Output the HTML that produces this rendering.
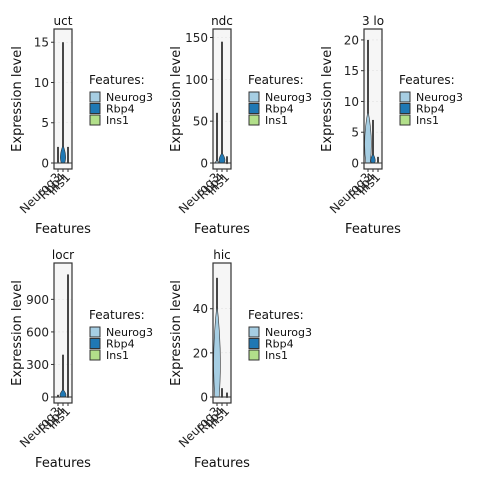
<!DOCTYPE html>
<html><head><meta charset="utf-8"><style>
body{margin:0;background:#fff}
svg text{font-family:"DejaVu Sans","Liberation Sans",sans-serif}
</style></head><body>
<svg id="c" width="480" height="480" xmlns="http://www.w3.org/2000/svg"></svg>
<script>
const features = ["Neurog3","Rbp4","Ins1"];
const colors = ["#a6cee3","#1f78b4","#b2df8a"];
const titles = ["uct","ndc","3 lo","locr","hic"];
const yTicks1 = [0,5,10,15];
const yTicks2 = [0,50,100,150];
const yTicks3 = [0,5,10,15,20];
const yTicks4 = [0,300,600,900];
const yTicks5 = [0,20,40];
const yMax = [15.9,153,20.8,1180,58];
const maxVals1 = [2,15,2];
const maxVals2 = [60,145,8];
const maxVals3 = [20,7,1];
const maxVals4 = [20,390,1130];
const maxVals5 = [54,4,2];
const bulk1 = [0.3,2.2,0.2];
const bulk2 = [3,12,0.5];
const bulk3 = [8.5,1.5,0.3];
const bulk4 = [10,70,8];
const bulk5 = [42,0.5,0.3];
const width1 = [0.2,0.7,0.2];
const width2 = [0.6,0.8,0.2];
const width3 = [0.9,0.6,0.3];
const width4 = [0.3,0.8,0.2];
const width5 = [0.9,0.2,0.2];

const panels=[
 {x:54,y:29,ticks:yTicks1,max:maxVals1,bulk:bulk1,w:width1,lx:89,ly:80},
 {x:213,y:29,ticks:yTicks2,max:maxVals2,bulk:bulk2,w:width2,lx:248,ly:80},
 {x:364,y:29,ticks:yTicks3,max:maxVals3,bulk:bulk3,w:width3,lx:399,ly:80},
 {x:54,y:263,ticks:yTicks4,max:maxVals4,bulk:bulk4,w:width4,lx:89,ly:315},
 {x:213,y:263,ticks:yTicks5,max:maxVals5,bulk:bulk5,w:width5,lx:248,ly:315}
];
const svg=document.getElementById('c');
const NS="http://www.w3.org/2000/svg";
function mk(tag,attrs,parent){const e=document.createElementNS(NS,tag);for(const k in attrs)e.setAttribute(k,attrs[k]);(parent||svg).appendChild(e);return e;}
panels.forEach((p,i)=>{
  const W=18,H=140;
  const g=mk('g',{});
  
  
  const y0=p.y+134, ymx=yMax[i];
  const ys=v=>y0-(v/ymx)*(134-6);
  const xs=j=>p.x+4+j*5;
  const bg=mk('rect',{x:p.x,y:p.y,width:W,height:H,fill:'#f6f6f6'},g);
  
  
  p.ticks.forEach(t=>{
    mk('line',{x1:p.x,x2:p.x+W,y1:ys(t),y2:ys(t),stroke:'#e2e2e2','stroke-width':0.6,'stroke-dasharray':'2,2'},g);
    mk('line',{x1:p.x-3,x2:p.x,y1:ys(t),y2:ys(t),stroke:'#333','stroke-width':1},g);
    const tl=mk('text',{x:p.x-5,y:ys(t)+4.5,'font-size':12,'text-anchor':'end',fill:'#222'},g);
    tl.textContent=t;
    
    
  });
  features.forEach((f,j)=>{
    const cx=xs(j);
    const ln=mk('line',{x1:cx,x2:cx,y1:ys(0),y2:ys(p.max[j]),stroke:'#333','stroke-width':1.8},g);
    
    
    const hw=p.w[j]*6, top=ys(p.bulk[j]);
    const vp=mk('path',{d:`M${cx},${top} Q${cx+hw},${(top+y0)/2+2} ${cx+hw*0.4},${y0} L${cx-hw*0.4},${y0} Q${cx-hw},${(top+y0)/2+2} ${cx},${top}Z`,fill:colors[j],stroke:'#333','stroke-width':0.6},g);
    
    
    mk('line',{x1:cx,x2:cx,y1:p.y+H,y2:p.y+H+3,stroke:'#333'},g);
    const xl=mk('text',{transform:`translate(${cx+3},${p.y+H+9}) rotate(-45)`,'font-size':12,'text-anchor':'end',fill:'#222'},g);
    xl.textContent=f;
    
    
  });
  mk('line',{x1:p.x,x2:p.x+W,y1:y0,y2:y0,stroke:'#333','stroke-width':1},g);
  const fr=mk('rect',{x:p.x,y:p.y,width:W,height:H,fill:'none',stroke:'#333','stroke-width':1.2},g);
  
  
  const tt=mk('text',{x:p.x+W/2,y:p.y-4,'font-size':12,'text-anchor':'middle',fill:'#111'},g);
  tt.textContent=titles[i];
  
  
  const yt=mk('text',{transform:`translate(${p.x-33},${p.y+70}) rotate(-90)`,'font-size':13,'text-anchor':'middle',fill:'#111'},g);
  yt.textContent='Expression level';
  
  
  const xt=mk('text',{x:p.x+9,y:p.y+H+64,'font-size':13,'text-anchor':'middle',fill:'#111'},g);
  xt.textContent='Features';
  
  
  const lg=mk('g',{},g);
  
  
  const lt=mk('text',{x:p.lx,y:p.ly+4,'font-size':12,fill:'#111'},lg);
  lt.textContent='Features:';
  features.forEach((f,j)=>{
    const ky=p.ly+12+j*11.5;
    mk('rect',{x:p.lx+1,y:ky,width:10,height:10,fill:colors[j],stroke:'#333','stroke-width':1},lg);
    const et=mk('text',{x:p.lx+17,y:ky+9,'font-size':11,fill:'#111'},lg);
    et.textContent=f;
    
    
  });
});
</script>
</body></html>
